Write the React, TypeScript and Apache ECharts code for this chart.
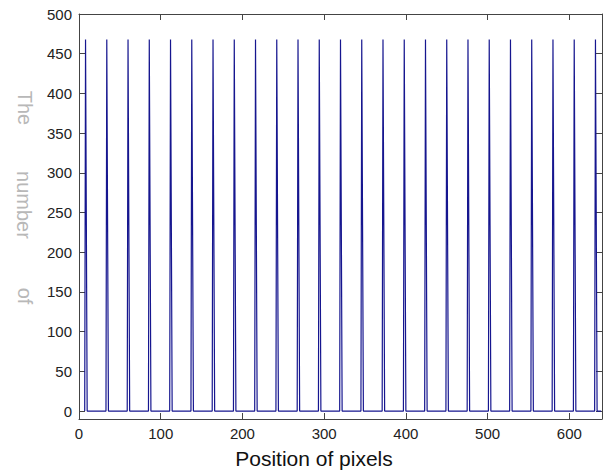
import React, { useEffect, useRef } from "react";
import * as echarts from "echarts";

// Spike positions (pixel index)
const spikePositions = [8, 34, 60, 86, 112, 138, 164, 190, 216, 242, 268, 294, 320, 346, 372, 398, 424, 450, 476, 502, 528, 554, 580, 606, 632];
// Tall spike heights
const tallValues = [468, 468, 468, 468, 468, 468, 468, 468, 468, 468, 468, 468, 468, 468, 468, 468, 468, 468, 468, 468, 468, 468, 468, 468, 468];
// Short (second sample) heights
const shortValues = [234, 234, 234, 234, 234, 234, 234, 234, 234, 234, 234, 234, 234, 234, 234, 234, 234, 234, 234, 234, 234, 234, 234, 234, 234];
const xTicks = [0, 100, 200, 300, 400, 500, 600];
const yTicks = [0, 50, 100, 150, 200, 250, 300, 350, 400, 450, 500];
const xMax = 640;

function buildSeriesData(): [number, number][] {
  const d: [number, number][] = [];
  spikePositions.forEach((p, i) => {
    d.push([p - 1, 0]);
    d.push([p, tallValues[i]]);
    d.push([p + 1, shortValues[i]]);
    d.push([p + 2, 0]);
  });
  d.push([xMax - 1, 0]);
  return d;
}

const FONT = "'Liberation Sans', Arial, Helvetica, sans-serif";
const AXIS_COLOR = "#444";

export default function App() {
  const ref = useRef<HTMLDivElement>(null);
  useEffect(() => {
    if (!ref.current) return;
    const chart = echarts.init(ref.current, undefined, { renderer: "svg" });
    const tick = (vals: number[]) => ({
      show: true,
      inside: true,
      length: 6,
      customValues: vals,
      lineStyle: { color: AXIS_COLOR, width: 1 },
    });
    const axisLine = { show: true, onZero: false, lineStyle: { color: AXIS_COLOR, width: 1 } };
    chart.setOption({
      animation: false,
      backgroundColor: "#ffffff",
      grid: { left: 79, right: 6, top: 14, bottom: 55, containLabel: false },
      xAxis: [
        {
          type: "value",
          min: 0,
          max: xMax,
          position: "bottom",
          axisLine,
          axisTick: tick(xTicks),
          axisLabel: {
            customValues: xTicks,
            color: "#222",
            fontSize: 15,
            fontFamily: FONT,
            margin: 7,
          },
          splitLine: { show: false },
        },
        {
          type: "value",
          min: 0,
          max: xMax,
          position: "top",
          axisLine,
          axisTick: tick(xTicks),
          axisLabel: { show: false },
          splitLine: { show: false },
        },
      ],
      yAxis: [
        {
          type: "value",
          min: -10,
          max: 500,
          position: "left",
          axisLine,
          axisTick: tick(yTicks),
          axisLabel: {
            customValues: yTicks,
            color: "#222",
            fontSize: 15,
            fontFamily: FONT,
            margin: 7,
          },
          splitLine: { show: false },
        },
        {
          type: "value",
          min: -10,
          max: 500,
          position: "right",
          axisLine,
          axisTick: tick(yTicks),
          axisLabel: { show: false },
          splitLine: { show: false },
        },
      ],
      series: [
        {
          type: "line",
          xAxisIndex: 0,
          yAxisIndex: 0,
          data: buildSeriesData(),
          showSymbol: false,
          symbol: "none",
          lineStyle: { color: "#16168f", width: 1.2 },
        },
      ],
      graphic: [
        {
          type: "text",
          x: 314,
          y: 458,
          style: {
            text: "Position of pixels",
            fontSize: 21,
            fontFamily: FONT,
            fill: "#111",
            align: "center",
            verticalAlign: "middle",
          },
        },
        {
          type: "text",
          x: 25,
          y: 108,
          rotation: -Math.PI / 2,
          style: { text: "The", fontSize: 20, fontFamily: FONT, fill: "#b8b8b8", align: "center", verticalAlign: "middle" },
        },
        {
          type: "text",
          x: 24,
          y: 205,
          rotation: -Math.PI / 2,
          style: { text: "number", fontSize: 20, fontFamily: FONT, fill: "#b8b8b8", align: "center", verticalAlign: "middle" },
        },
        {
          type: "text",
          x: 25,
          y: 296,
          rotation: -Math.PI / 2,
          style: { text: "of", fontSize: 20, fontFamily: FONT, fill: "#b8b8b8", align: "center", verticalAlign: "middle" },
        },
      ],
    });
    return () => chart.dispose();
  }, []);
  return <div ref={ref} style={{ width: 608, height: 474, position: "absolute", left: 0, top: 0 }} />;
}
